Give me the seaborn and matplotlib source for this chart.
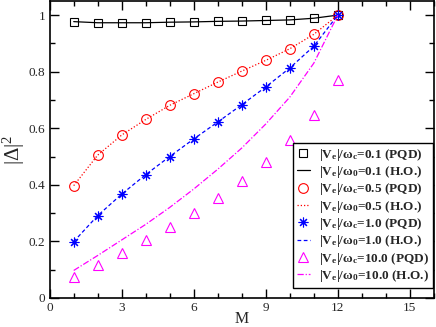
import matplotlib
matplotlib.use('agg')
import matplotlib.pyplot as plt
import seaborn as sns
import numpy as np

# data
m_vals = [1, 2, 3, 4, 5, 6, 7, 8, 9, 10, 11, 12]

pqd_01 = [0.977, 0.973, 0.973, 0.973, 0.975, 0.976, 0.978, 0.979, 0.981, 0.983, 0.989, 1.0]
ho_01 = [0.977, 0.973, 0.973, 0.973, 0.975, 0.976, 0.978, 0.979, 0.981, 0.983, 0.989, 1.0]

pqd_05 = [0.397, 0.505, 0.576, 0.631, 0.681, 0.722, 0.763, 0.802, 0.840, 0.881, 0.932, 1.0]
ho_05 = [0.397, 0.505, 0.576, 0.631, 0.681, 0.722, 0.763, 0.802, 0.840, 0.881, 0.932, 1.0]

pqd_10 = [0.199, 0.291, 0.367, 0.436, 0.500, 0.562, 0.622, 0.683, 0.746, 0.813, 0.890, 1.0]
ho_10 = [0.199, 0.291, 0.367, 0.436, 0.500, 0.562, 0.622, 0.683, 0.746, 0.813, 0.890, 1.0]

pqd_100 = [0.075, 0.117, 0.158, 0.203, 0.249, 0.300, 0.353, 0.412, 0.480, 0.557, 0.648, 0.769]
ho_100 = [0.097, 0.150, 0.205, 0.260, 0.320, 0.385, 0.455, 0.530, 0.615, 0.710, 0.830, 1.0]

labels = [
    '|V$_\\mathbf{e}$|/ω$_\\mathbf{c}$=0.1 (PQD)',
    '|V$_\\mathbf{e}$|/ω$_\\mathbf{0}$=0.1 (H.O.)',
    '|V$_\\mathbf{e}$|/ω$_\\mathbf{c}$=0.5 (PQD)',
    '|V$_\\mathbf{e}$|/ω$_\\mathbf{0}$=0.5 (H.O.)',
    '|V$_\\mathbf{e}$|/ω$_\\mathbf{c}$=1.0 (PQD)',
    '|V$_\\mathbf{e}$|/ω$_\\mathbf{0}$=1.0 (H.O.)',
    '|V$_\\mathbf{e}$|/ω$_\\mathbf{c}$=10.0 (PQD)',
    '|V$_\\mathbf{e}$|/ω$_\\mathbf{0}$=10.0 (H.O.)',
]

sns.set_style('ticks')
plt.rcParams['font.family'] = ['Liberation Serif', 'DejaVu Serif']
plt.rcParams['mathtext.fontset'] = 'custom'
plt.rcParams['mathtext.rm'] = 'Liberation Serif'
plt.rcParams['mathtext.bf'] = 'Liberation Serif:bold'
plt.rcParams['mathtext.it'] = 'Liberation Serif:italic'

fig = plt.figure(figsize=(4.36, 3.27), dpi=100)
ax = fig.add_axes([0.114, 0.089, 0.881, 0.908])

series = [
    (pqd_01, ho_01, 'black', 's', 6.0, '-'),
    (pqd_05, ho_05, '#ff0000', 'o', 7.0, (0, (1, 1.6))),
    (pqd_10, ho_10, '#0000ff', (8, 2, 0), 7.0, (0, (3, 2))),
    (pqd_100, ho_100, '#ff00ff', '^', 7.0, (0, (5, 1.5, 1, 1.5))),
]

handles = []
for pqd, ho, c, mk, ms, ls in series:
    sns.lineplot(x=m_vals, y=ho, ax=ax, color=c, linestyle=ls, lw=0.9)
    h_line = ax.lines[-1]
    sns.lineplot(x=m_vals, y=pqd, ax=ax, color=c, linestyle='none', marker=mk,
                 markersize=ms, markerfacecolor='none', markeredgecolor=c,
                 markeredgewidth=0.8)
    h_mark = ax.lines[-1]
    handles += [h_mark, h_line]

ax.set_xlim(0, 16)
ax.set_ylim(0, 1.05)
ax.set_xticks([0, 3, 6, 9, 12, 15])
ax.set_xticks(np.arange(0, 17, 1), minor=True)
ax.set_yticks([0, 0.2, 0.4, 0.6, 0.8, 1.0])
ax.set_yticklabels(['0', '0.2', '0.4', '0.6', '0.8', '1'])
ax.set_yticks(np.arange(0, 1.05, 0.1), minor=True)
ax.tick_params(which='both', direction='in', top=True, right=True,
               labelsize=9.5, width=1.0, color='black')
ax.tick_params(which='major', length=6.5, pad=3)
ax.tick_params(which='minor', length=3.5)
for sp in ax.spines.values():
    sp.set_linewidth(1.2)
    sp.set_color('black')

ax.set_xlabel('M', fontsize=11.5)
ax.xaxis.set_label_coords(0.5, -0.045)
ax.set_ylabel('|$\\Delta$|$^2$', fontsize=15)
ax.yaxis.set_label_coords(-0.058, 0.5)

leg = ax.legend(handles, labels, loc='lower right', bbox_to_anchor=(0.998, 0.034),
                borderaxespad=0, frameon=True, fancybox=False, edgecolor='black',
                framealpha=1, handlelength=1.0, handletextpad=0.7,
                labelspacing=0.1, borderpad=0.3,
                prop={'family': 'Liberation Serif', 'weight': 'bold', 'size': 9.5})
leg.get_frame().set_linewidth(1.0)

fig.savefig('out.png', dpi=100)
